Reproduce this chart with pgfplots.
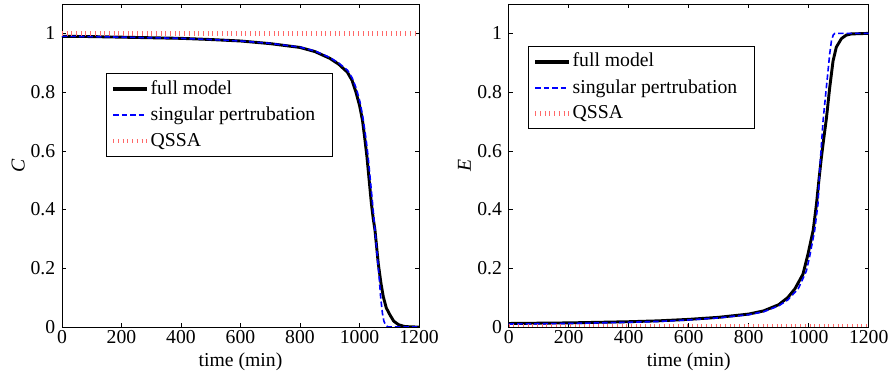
\documentclass[border=0pt]{standalone}
\usepackage{fontspec}
\setmainfont{Liberation Serif}
\usepackage{pgfplots}
\pgfplotsset{compat=1.18}
\definecolor{qssared}{RGB}{255,105,105}
\tikzset{
  fullm/.style={black, line width=2.9pt},
  singp/.style={blue, line width=1.6pt, dash pattern=on 5.5pt off 3pt},
  qssa/.style={qssared, line width=4.5pt, dash pattern=on 1pt off 3.7pt},
}
\newcommand{\fsz}{\fontsize{19.7}{22}\selectfont}
\begin{document}
\fsz
\begin{tikzpicture}
\pgfplotsset{
  myaxis/.style={
    scale only axis, height=323pt,
    xmin=0, xmax=1200, ymin=0, ymax=1.1,
    xtick={0,200,...,1200}, ytick={0,0.2,0.4,0.6,0.8,1},
    tick align=inside, major tick length=4pt,
    every tick/.style={black, line width=0.6pt},
    axis line style={line width=0.9pt},
    /pgf/number format/assume math mode=true,
    /pgf/number format/1000 sep={},
    tick label style={font=\fsz},
    yticklabel style={/pgf/number format/fixed},
    x tick label style={yshift=-1pt, inner ysep=2pt},
    scaled ticks=false,
    xlabel={time (min)},
    every axis x label/.style={at={(axis description cs:0.5,-0.108)}, anchor=center, inner sep=0pt, font=\fsz},
    every axis y label/.style={at={(axis description cs:-0.123,0.5)}, anchor=center, rotate=90, font=\fsz},
    legend cell align=left,
    legend image code/.code={%
      \path[draw,##1] (0pt,0pt) -- (33pt,0pt);%
      \path[draw,##1] (0pt,0pt) -- (33pt,0pt);},
    legend style={draw=black, line width=0.9pt, fill=white, anchor=north west,
      inner xsep=5pt, inner ysep=5pt, row sep=5.5pt,
      font=\fsz,
      nodes={inner sep=2pt}},
  },
  fulllegend/.style={legend image code/.code={%
      \path (0pt,0pt) -- (33pt,0pt);%
      \fill[black, overlay] (0pt,-1.45pt) rectangle (33pt,1.45pt);}},
}
\begin{axis}[myaxis, width=357pt, at={(0pt,0pt)}, anchor=south west,
  ylabel={\textit{C}},
  legend style={at={(axis description cs:0.1224,0.786)}}]
\addlegendimage{fulllegend}
\addlegendentry{full model}
\addlegendimage{blue, line width=1.6pt, dash pattern=on 5.5pt off 3pt}
\addlegendentry{singular pertrubation\hspace*{10pt}}
\addlegendimage{qssared, line width=4.5pt, dash pattern=on 1pt off 3.7pt}
\addlegendentry{QSSA}
\addplot[fullm, forget plot] coordinates {
(0,0.990) (100,0.989) (200,0.987) (300,0.985) (400,0.983) (500,0.979) (600,0.974)
(700,0.965) (800,0.952) (850,0.938) (900,0.915) (930,0.895) (959,0.868) (975,0.840)
(988,0.800) (1000,0.755) (1010,0.704) (1018,0.640) (1025,0.580) (1032,0.505)
(1040,0.420) (1046,0.370) (1052,0.330) (1063,0.217) (1072,0.150) (1080,0.103)
(1090,0.065) (1103,0.040) (1115,0.020) (1131,0.008) (1150,0.002) (1175,0.0003) (1200,0)
};
\addplot[singp, forget plot] coordinates {
(0,0.990) (100,0.989) (200,0.987) (300,0.985) (400,0.983) (500,0.979) (600,0.974)
(700,0.966) (800,0.953) (850,0.940) (900,0.918) (930,0.899) (960,0.874) (976,0.847)
(990,0.810) (1002,0.765) (1012,0.710) (1022,0.640) (1029,0.580) (1036,0.505)
(1044,0.420) (1052,0.330) (1060,0.240) (1066,0.170) (1071,0.103) (1077,0.047)
(1082,0.020) (1088,0.006) (1095,0.001) (1100,0) (1200,0)
};
\addplot[qssa, forget plot] coordinates {(0,1) (1200,1)};
\end{axis}
\begin{axis}[myaxis, width=360pt, at={(446.7pt,0pt)}, anchor=south west,
  ylabel={\textit{E}},
  legend style={at={(axis description cs:0.0527,0.871)}}]
\addlegendimage{fulllegend}
\addlegendentry{full model}
\addlegendimage{blue, line width=1.6pt, dash pattern=on 5.5pt off 3pt}
\addlegendentry{singular pertrubation\hspace*{10pt}}
\addlegendimage{qssared, line width=4.5pt, dash pattern=on 1pt off 3.7pt}
\addlegendentry{QSSA}
\addplot[fullm, forget plot] coordinates {
(0,0.012) (100,0.013) (200,0.014) (300,0.016) (400,0.018) (500,0.021) (600,0.026)
(700,0.033) (800,0.044) (850,0.055) (900,0.076) (930,0.100) (954,0.130) (981,0.180)
(998,0.250) (1015,0.330) (1026,0.420) (1034,0.500) (1042,0.575) (1050,0.640)
(1059,0.710) (1070,0.815) (1081,0.905) (1092,0.953) (1109,0.982) (1125,0.994)
(1142,0.998) (1200,1.0)
};
\addplot[singp, forget plot] coordinates {
(0,0.010) (100,0.011) (200,0.012) (300,0.014) (400,0.016) (500,0.019) (600,0.024)
(700,0.031) (800,0.042) (850,0.052) (900,0.072) (930,0.092) (965,0.130) (992,0.190)
(1003,0.239) (1020,0.330) (1031,0.420) (1037,0.540) (1048,0.704) (1059,0.817)
(1070,0.930) (1076,0.976) (1082,0.995) (1087,1.0) (1200,1.0)
};
\addplot[qssa, forget plot] coordinates {(0,0.004) (1200,0.004)};
\end{axis}
\pgfresetboundingbox
\path (-62pt,-50pt) rectangle (827pt,327pt);
\end{tikzpicture}
\end{document}
